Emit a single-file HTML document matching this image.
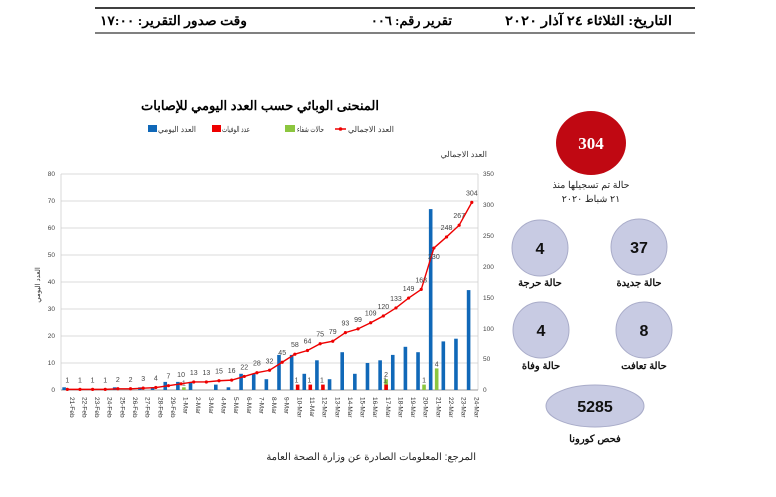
<!DOCTYPE html>
<html><head><meta charset="utf-8"><style>
body{margin:0;background:#fff;width:776px;height:492px;overflow:hidden;font-family:"Liberation Sans","Noto Sans CJK SC",sans-serif}
</style></head><body>
<svg width="776" height="492" xmlns="http://www.w3.org/2000/svg" font-family="Liberation Sans, Noto Sans CJK SC, sans-serif">
<line x1="95" y1="8" x2="695" y2="8" stroke="#000" stroke-width="1.5"/>
<line x1="95" y1="33" x2="695" y2="33" stroke="#000" stroke-width="1"/>
<g font-size="13" font-weight="bold" font-family="Liberation Serif, serif">
<text x="672" y="25" text-anchor="end" textLength="167" lengthAdjust="spacingAndGlyphs">التاريخ: الثلاثاء ٢٤ آذار ٢٠٢٠</text>
<text x="452" y="25" text-anchor="end">تقرير رقم: ٠٠٦</text>
<text x="247" y="25" text-anchor="end" textLength="147" lengthAdjust="spacingAndGlyphs">وقت صدور التقرير: ١٧:٠٠</text>
</g>
<text x="260" y="110" text-anchor="middle" font-size="13" font-weight="bold">المنحنى الوبائي حسب العدد اليومي للإصابات</text>
<g font-size="8" fill="#333">
<line x1="335" y1="129" x2="346" y2="129" stroke="#e00" stroke-width="1.5"/><circle cx="340.5" cy="129" r="1.8" fill="#e00"/>
<text x="348" y="132" textLength="46" lengthAdjust="spacingAndGlyphs">العدد الاجمالي</text>
<rect x="285" y="125" width="10" height="7" fill="#8cc63f"/><text x="297" y="132" textLength="27" lengthAdjust="spacingAndGlyphs">حالات شفاء</text>
<rect x="212" y="125" width="9" height="7" fill="#e00"/><text x="222" y="132" textLength="28" lengthAdjust="spacingAndGlyphs">عدد الوفيات</text>
<rect x="148" y="125" width="9" height="7" fill="#1068b8"/><text x="158" y="132" textLength="38" lengthAdjust="spacingAndGlyphs">العدد اليومي</text>
<text x="487" y="157" text-anchor="end" font-size="8">العدد الاجمالي</text>
</g>
<g id="grid" stroke="#cfcfcf" stroke-width="0.8">
<line x1="61" y1="174" x2="478" y2="174"/><line x1="61" y1="201" x2="478" y2="201"/><line x1="61" y1="228" x2="478" y2="228"/><line x1="61" y1="255" x2="478" y2="255"/><line x1="61" y1="282" x2="478" y2="282"/><line x1="61" y1="309" x2="478" y2="309"/><line x1="61" y1="336" x2="478" y2="336"/><line x1="61" y1="363" x2="478" y2="363"/>
<line x1="61" y1="174" x2="61" y2="390"/><line x1="478" y1="174" x2="478" y2="390"/>
</g>
<line x1="61" y1="390" x2="478" y2="390" stroke="#999"/>
<g font-size="6.5" fill="#444">
<text x="55" y="176" text-anchor="end">80</text><text x="55" y="203" text-anchor="end">70</text><text x="55" y="230" text-anchor="end">60</text><text x="55" y="257" text-anchor="end">50</text><text x="55" y="284" text-anchor="end">40</text><text x="55" y="311" text-anchor="end">30</text><text x="55" y="338" text-anchor="end">20</text><text x="55" y="365" text-anchor="end">10</text><text x="55" y="392" text-anchor="end">0</text>
<text x="483" y="176">350</text><text x="483" y="207">300</text><text x="483" y="238">250</text><text x="483" y="269">200</text><text x="483" y="300">150</text><text x="483" y="331">100</text><text x="483" y="361">50</text><text x="483" y="392">0</text>
</g>
<text transform="translate(40,285) rotate(-90)" font-size="7" text-anchor="middle" fill="#333">العدد اليومي</text>
<g id="chart"></g>
<text x="476" y="460" text-anchor="end" font-size="10" fill="#222">المرجع: المعلومات الصادرة عن وزارة الصحة العامة</text>
<ellipse cx="591" cy="143" rx="35" ry="32" fill="#c00812"/>
<text x="591" y="149" text-anchor="middle" font-size="17" font-weight="bold" fill="#fff" font-family="Liberation Serif, serif">304</text>
<text x="591" y="188" text-anchor="middle" font-size="9.5" fill="#222">حالة تم تسجيلها منذ</text>
<text x="591" y="202" text-anchor="middle" font-size="9.5" fill="#222">٢١ شباط ٢٠٢٠</text>
<g fill="#c8cbe3" stroke="#a9acc9">
<circle cx="540" cy="248" r="28"/><circle cx="639" cy="247" r="28"/><circle cx="541" cy="330" r="28"/><circle cx="644" cy="330" r="28"/>
<ellipse cx="595" cy="406" rx="49" ry="21"/></g>
<g font-size="16" font-weight="bold" text-anchor="middle" fill="#111">
<text x="540" y="254">4</text><text x="639" y="253">37</text><text x="541" y="336">4</text><text x="644" y="336">8</text><text x="595" y="412">5285</text></g>
<g font-size="10" font-weight="bold" text-anchor="middle" fill="#111">
<text x="540" y="286">حالة حرجة</text><text x="639" y="286">حالة جديدة</text><text x="541" y="369">حالة وفاة</text><text x="644" y="369">حالة تعافت</text><text x="595" y="442">فحص كورونا</text></g>
</svg>
<script>
const daily=[1,0,0,0,1,0,1,1,3,3,3,0,2,1,6,6,4,13,13,6,11,4,14,6,10,11,13,16,14,67,18,19,37];
const cum=[1,1,1,1,2,2,3,4,7,10,13,13,15,16,22,28,32,45,58,64,75,79,93,99,109,120,133,149,163,230,248,267,304];
const dates=[];for(let i=21;i<=29;i++)dates.push(i+"-Feb");for(let i=1;i<=24;i++)dates.push(i+"-Mar");
const green={9:[1,"1"],25:[4,"2"],28:[2,"1"],29:[8,"4"]};
const red={18:"1",19:"1",20:"1",25:"1"};
const X=i=>61+12.64*(i+0.5), YL=v=>390-v*2.7, YR=v=>390-v*216/350;
let s="";
daily.forEach((v,i)=>{if(v)s+=`<rect x="${X(i)-5}" y="${YL(v)}" width="3.6" height="${v*2.7}" fill="#1068b8"/>`;});
for(const k in green){const [h,l]=green[k];s+=`<rect x="${X(+k)+1}" y="${YL(h)}" width="3.6" height="${h*2.7}" fill="#8cc63f"/><text x="${X(+k)+2.8}" y="${YL(h)-2}" font-size="7" text-anchor="middle" fill="#444">${l}</text>`;}
for(const k in red){s+=`<rect x="${X(+k)+1}" y="${YL(2)}" width="3.6" height="5.4" fill="#e00"/><text x="${X(+k)+1.8}" y="${YL(2)-2}" font-size="7" text-anchor="middle" fill="#444">1</text>`;}
s+=`<polyline fill="none" stroke="#e00" stroke-width="1.4" points="${cum.map((v,i)=>X(i)+","+YR(v)).join(" ")}"/>`;
cum.forEach((v,i)=>{s+=`<circle cx="${X(i)}" cy="${YR(v)}" r="1.6" fill="#e00"/>`;
 const y=v==230?YR(v)+11:YR(v)-7;s+=`<text x="${X(i)}" y="${y}" font-size="7" text-anchor="middle" fill="#444">${v}</text>`;
 s+=`<text transform="translate(${X(i)+2.5},397) rotate(90)" font-size="6.5" fill="#333">${dates[i]}</text>`;});
document.getElementById("chart").innerHTML=s;
</script>
</body></html>
